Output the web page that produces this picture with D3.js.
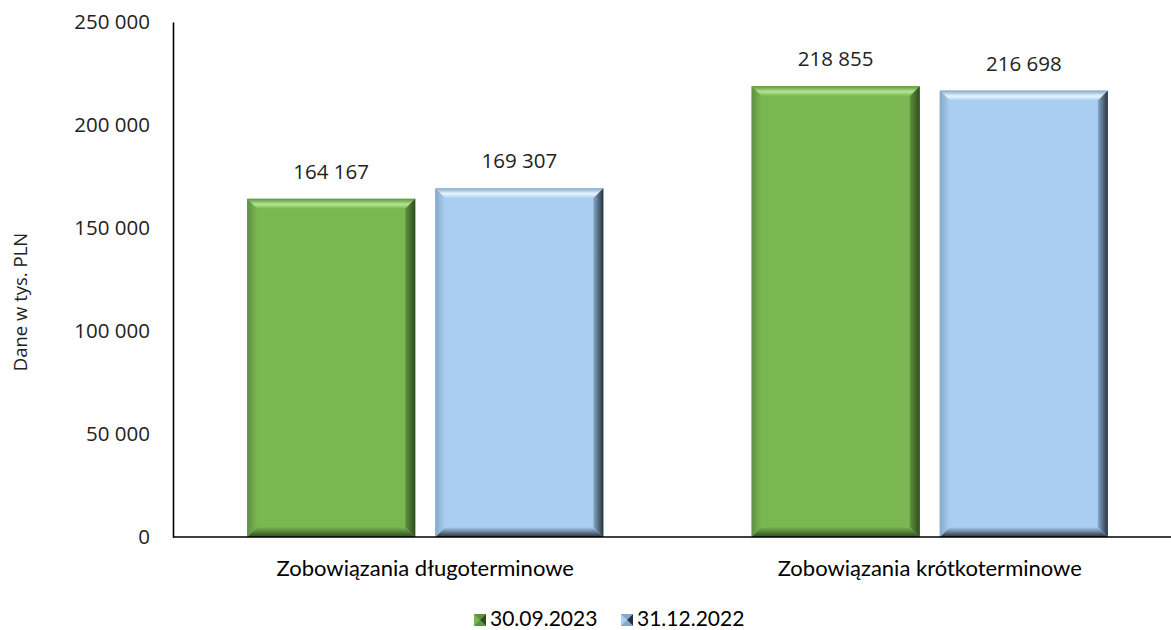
<!DOCTYPE html>
<html>
<head>
<meta charset="utf-8">
<script src="https://cdn.jsdelivr.net/npm/d3@7"></script>
<style>
  html, body { margin: 0; padding: 0; background: #fff; }
  svg { display: block; }
</style>
</head>
<body>
<svg id="chart" width="1171" height="630"></svg>
<script>
const categories = ['Zobowiązania długoterminowe', 'Zobowiązania krótkoterminowe']
const seriesNames = ['30.09.2023', '31.12.2022']
const values2023 = [164167, 218855]
const values2022 = [169307, 216698]
const yTicks = [0, 50000, 100000, 150000, 200000, 250000]

const COLORS = {
  '30.09.2023': { base: '#7ab651', light: '#b3e68e', dark: '#2f4c1e', side: '#5f9140' },
  '31.12.2022': { base: '#a9cef2', light: '#e6f6ff', dark: '#26313d', side: '#86a8c8' }
}

const width = 1171
const height = 630
const margin = { top: 22, right: -11, bottom: 93, left: 173 }

const svg = d3.select('#chart')

const data = categories.map((c, i) => ({
  category: c,
  values: [
    { key: seriesNames[0], value: values2023[i] },
    { key: seriesNames[1], value: values2022[i] }
  ]
}))

const x0 = d3.scaleBand()
  .domain(categories)
  .range([margin.left, width - margin.right])

const x1 = d3.scaleBand()
  .domain(seriesNames)
  .range([0, x0.bandwidth()])
  .paddingInner(0.106)
  .paddingOuter(0.394)

const y = d3.scaleLinear()
  .domain([0, 250000])
  .range([height - margin.bottom, margin.top])

const fmt = v => d3.format(',')(v).replace(/,/g, ' ')
const NUM_FONT = "'Open Sans', 'Noto Sans', sans-serif"
const TXT_FONT = "Lato, 'Open Sans', sans-serif"

// axes
const yAxis = d3.axisLeft(y).tickValues(yTicks).tickSize(0).tickPadding(23).tickFormat(fmt)
const gy = svg.append('g')
  .attr('transform', 'translate(' + margin.left + ',0)')
  .call(yAxis)
gy.select('.domain').attr('stroke', '#000').attr('stroke-width', 1.6)
gy.selectAll('text')
  .attr('font-family', NUM_FONT)
  .attr('font-size', 20.5)
  .attr('fill', '#222')

svg.append('text')
  .attr('transform', 'translate(27,' + 302 + ') rotate(-90)')
  .attr('text-anchor', 'middle')
  .attr('font-family', NUM_FONT)
  .attr('font-size', 18.5)
  .attr('fill', '#222')
  .text('Dane w tys. PLN')

// bevel gradients
const defs = svg.append('defs')
seriesNames.forEach((s, si) => {
  const c = COLORS[s]
  const mk = (id, x1a, y1a, x2a, y2a, stops) => {
    const g = defs.append('linearGradient').attr('id', id + si)
      .attr('x1', x1a).attr('y1', y1a).attr('x2', x2a).attr('y2', y2a)
    stops.forEach(st => g.append('stop').attr('offset', st[0]).attr('stop-color', st[1]))
  }
  mk('top', 0, 1, 0, 0, [[0, c.base], [0.45, c.light], [1, c.side]])
  mk('bot', 0, 0, 0, 1, [[0, c.base], [1, c.dark]])
  mk('left', 1, 0, 0, 0, [[0, c.base], [1, c.side]])
  mk('right', 0, 0, 1, 0, [[0, c.side], [1, c.dark]])
})

const BEV = 10
const groups = svg.append('g').selectAll('g')
  .data(data)
  .join('g')
  .attr('transform', d => 'translate(' + x0(d.category) + ',0)')

const bars = groups.selectAll('g')
  .data(d => d.values)
  .join('g')

bars.each(function (d) {
  const g = d3.select(this)
  const si = seriesNames.indexOf(d.key)
  const xa = x1(d.key)
  const xb = xa + x1.bandwidth()
  const ya = y(d.value)
  const yb = y(0)
  const b = BEV
  g.append('rect')
    .attr('x', xa).attr('y', ya)
    .attr('width', xb - xa).attr('height', yb - ya)
    .attr('fill', COLORS[d.key].base)
  const poly = (pts, fill) => g.append('polygon')
    .attr('points', pts.map(p => p.join(',')).join(' '))
    .attr('fill', fill)
  poly([[xa, ya], [xb, ya], [xb - b, ya + b], [xa + b, ya + b]], 'url(#top' + si + ')')
  poly([[xa, yb], [xb, yb], [xb - b, yb - b], [xa + b, yb - b]], 'url(#bot' + si + ')')
  poly([[xa, ya], [xa + b, ya + b], [xa + b, yb - b], [xa, yb]], 'url(#left' + si + ')')
  poly([[xb, ya], [xb - b, ya + b], [xb - b, yb - b], [xb, yb]], 'url(#right' + si + ')')
  g.append('text')
    .attr('x', (xa + xb) / 2)
    .attr('y', ya - 20)
    .attr('text-anchor', 'middle')
    .attr('font-family', NUM_FONT)
    .attr('font-size', 20.5)
    .attr('fill', '#222')
    .text(fmt(d.value))
})

// x axis line
svg.append('line')
  .attr('x1', margin.left).attr('x2', width)
  .attr('y1', y(0)).attr('y2', y(0))
  .attr('stroke', '#000').attr('stroke-width', 1.6)

svg.append('g').selectAll('text')
  .data(categories)
  .join('text')
  .attr('x', d => x0(d) + x0.bandwidth() / 2)
  .attr('y', 576)
  .attr('text-anchor', 'middle')
  .attr('font-family', TXT_FONT)
  .attr('font-size', 22)
  .attr('fill', '#000')
  .text(d => d)

// legend
const legendX = [474, 621]
const legend = svg.append('g').selectAll('g')
  .data(seriesNames)
  .join('g')
  .attr('transform', (d, i) => 'translate(' + legendX[i] + ',614)')

legend.each(function (d, i) {
  const g = d3.select(this)
  const c = COLORS[d]
  const s = 12
  g.append('rect').attr('width', s).attr('height', s).attr('fill', c.base)
  g.append('polygon').attr('points', '0,0 ' + s + ',0 ' + s / 2 + ',' + s / 2).attr('fill', c.side)
  g.append('polygon').attr('points', s + ',0 ' + s + ',' + s + ' ' + s / 2 + ',' + s / 2).attr('fill', c.dark)
  g.append('polygon').attr('points', '0,' + s + ' ' + s + ',' + s + ' ' + s / 2 + ',' + s / 2).attr('fill', c.side)
  g.append('text')
    .attr('x', s + 4)
    .attr('y', s)
    .attr('font-family', TXT_FONT)
    .attr('font-size', 21)
    .attr('fill', '#000')
    .text(d)
})
</script>
</body>
</html>
